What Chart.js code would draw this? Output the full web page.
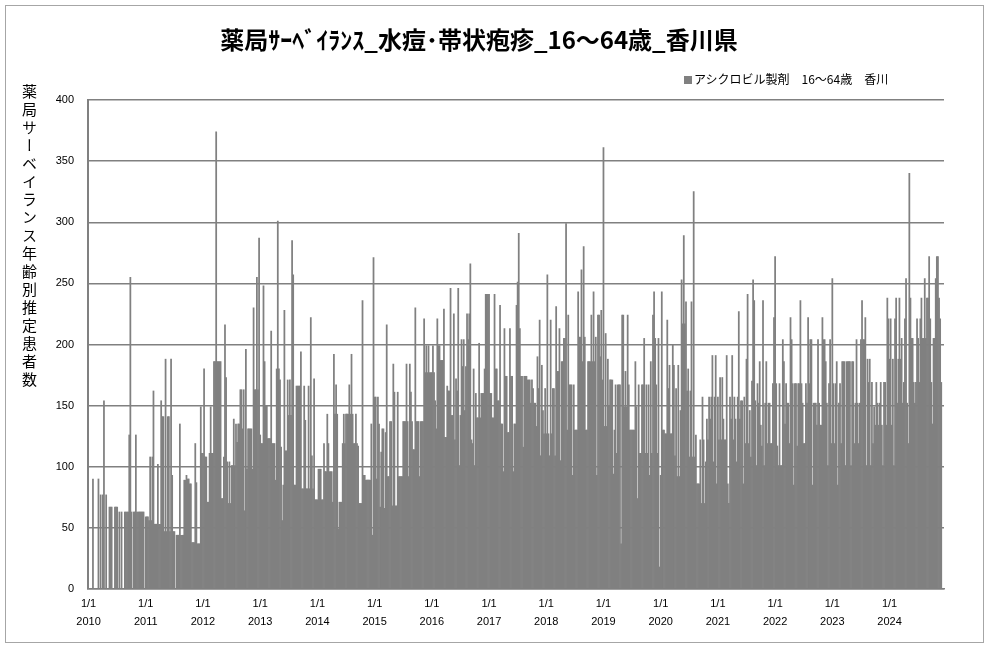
<!DOCTYPE html>
<html lang="ja">
<head>
<meta charset="utf-8">
<title>薬局サーベイランス 水痘・帯状疱疹 香川県</title>
<script src="https://cdn.jsdelivr.net/npm/chart.js@4.4.1/dist/chart.umd.min.js"></script>
<style>
  html, body { margin: 0; padding: 0; background: #fff; }
  #wrap { position: relative; width: 987px; height: 648px; }
  #frame { position: absolute; left: 5px; top: 5px; width: 977px; height: 636px; border: 1px solid #a6a6a6; pointer-events: none; }
  #ylabel { position: absolute; left: 19px; top: 84px; writing-mode: vertical-rl; text-orientation: upright;
            font: 15px "Noto Sans CJK JP"; letter-spacing: 3px; color: #000; }
  #legend { position: absolute; left: 684px; top: 70px; font: 12px "Noto Sans CJK JP"; color: #000; white-space: nowrap; }
  #legend .box { display: inline-block; width: 8px; height: 8px; background: #808080; margin-right: 2px; }
</style>
</head>
<body>
<div id="wrap">
  <canvas id="chart" width="987" height="648"></canvas>
  <div id="ylabel">薬局サーベイランス年齢別推定患者数</div>
  <div id="legend"></div>
  <div id="frame"></div>
</div>
<script>
// 週ごとの推定患者数
const years = [2010, 2011, 2012, 2013, 2014, 2015, 2016, 2017, 2018, 2019, 2020, 2021, 2022, 2023, 2024];
const weeksPerYear = [52, 52, 52, 52, 52, 52, 52, 52, 52, 52, 52, 52, 52, 52, 50];

const d2010 = [0,0,0,0,90,0,0,0,0,90,0,77,0,77,154,0,77,0,0,67,67,67,0,0,67,67,67,0,63,0,63,0,0,63,63,63,63,126,255,63,0,63,63,126,63,63,63,63,63,63,63,0];
const d2011 = [59,59,59,56,108,56,108,162,53,53,53,102,53,53,154,141,141,47,188,47,141,141,47,188,93,47,47,0,44,44,44,135,44,44,44,89,89,93,90,90,86,86,38,38,38,119,87,37,37,37,149,111];
const d2012 = [111,180,108,108,71,71,111,149,111,111,186,186,374,186,186,186,186,74,74,108,216,173,104,70,104,70,101,101,139,101,135,120,135,135,163,163,131,163,64,196,98,131,131,131,131,98,230,163,163,255,163,287];
const d2013 = [126,119,119,248,186,150,150,123,123,123,211,119,119,119,89,180,301,180,171,116,56,85,228,113,113,171,142,171,142,285,257,85,85,166,166,166,166,194,82,82,166,138,82,82,166,82,222,109,82,172,73,73];
const d2014 = [73,98,98,98,73,73,119,96,96,143,119,96,96,96,71,192,143,167,143,49,71,71,71,119,143,119,143,143,143,167,143,192,143,119,119,143,119,117,70,70,70,236,93,93,89,89,89,89,89,135,44,271];
const d2015 = [157,157,90,157,135,67,112,131,131,66,128,216,92,92,137,137,68,184,161,68,68,161,92,92,92,92,137,137,137,184,137,92,184,161,137,114,114,230,137,137,137,92,137,137,137,221,177,199,177,199,177,177];
const d2016 = [177,199,177,154,131,221,199,199,187,187,187,229,124,124,166,162,162,246,142,142,225,122,172,162,246,101,142,204,182,204,146,182,225,204,225,266,122,119,180,101,160,140,140,201,140,160,160,160,180,241,241,241];
const d2017 = [241,160,160,140,140,241,180,180,154,154,232,135,135,96,213,174,174,128,128,213,174,174,96,135,135,232,251,291,213,174,174,116,174,174,174,171,171,171,152,171,164,152,152,133,190,164,220,109,183,146,127,164];
const d2018 = [127,257,127,109,220,127,164,164,109,231,178,178,213,105,186,186,205,205,299,130,224,167,167,167,93,167,130,130,130,243,206,206,261,186,280,206,130,130,186,186,186,224,186,243,186,206,93,224,224,190,228,171];
const d2019 = [361,133,209,133,188,150,171,171,171,94,130,167,111,167,167,167,37,224,224,149,178,149,224,167,130,130,130,130,130,186,149,74,167,111,111,167,167,205,111,167,111,167,93,186,111,224,243,205,167,111,205,18];
const d2020 = [93,243,130,130,127,127,220,164,183,127,127,200,183,109,164,92,183,92,146,253,217,289,217,235,162,180,108,162,235,108,325,108,126,86,86,86,122,70,157,122,70,104,139,122,157,139,157,191,104,157,191,86];
const d2021 = [157,122,173,122,173,139,122,122,191,86,70,157,139,191,122,157,139,104,157,227,139,154,154,86,157,119,188,241,119,146,108,170,253,236,154,101,168,152,186,134,117,236,101,152,186,119,152,152,119,119,168,222];
const d2022 = [272,168,117,101,168,101,101,204,186,135,168,152,152,119,222,204,168,85,168,168,117,168,168,236,168,152,119,119,168,152,222,168,204,204,85,152,152,152,134,204,152,134,134,222,204,204,186,152,101,168,204,119];
const d2023 = [254,168,119,168,186,85,152,168,119,186,186,186,101,186,186,186,186,101,186,186,119,152,204,152,119,152,204,236,204,204,222,101,188,169,188,101,169,119,149,134,169,152,134,152,169,134,101,169,169,134,238,221];
const d2024 = [188,221,134,188,101,221,238,152,188,238,188,205,152,169,221,254,152,119,340,238,205,205,169,152,169,221,205,169,221,238,205,205,254,205,238,238,272,221,169,135,205,205,254,272,272,238,221,169];

const yTicks = [0, 50, 100, 150, 200, 250, 300, 350, 400];
const seriesLabel = 'アシクロビル製剤　16～64歳　香川';
const chartTitle = '薬局ｻｰﾍﾞｲﾗﾝｽ_水痘･帯状疱疹_16～64歳_香川県';

const values = [].concat(d2010, d2011, d2012, d2013, d2014, d2015, d2016, d2017, d2018, d2019, d2020, d2021, d2022, d2023, d2024);

// 各年の最初の週だけ「1/1 年」のラベル
const labels = [];
years.forEach((y, i) => {
  for (let w = 0; w < weeksPerYear[i]; w++) {
    labels.push(w === 0 ? ['1/1', String(y)] : '');
  }
});

document.querySelector('#legend').innerHTML = `<span class="box"></span>${seriesLabel}`;

const gray = '#808080';

const chart = new Chart(document.getElementById('chart'), {
  type: 'bar',
  data: {
    labels,
    datasets: [{
      label: seriesLabel,
      data: values,
      backgroundColor: gray,
      borderWidth: 0,
      barPercentage: 1,
      categoryPercentage: 1
    }]
  },
  options: {
    responsive: false,
    animation: false,
    layout: { padding: { left: 14, right: 43, top: 0, bottom: 0 } },
    plugins: {
      legend: { display: false },
      tooltip: { enabled: false },
      title: {
        display: true,
        text: chartTitle,
        color: '#000',
        font: { family: '"Noto Sans CJK JP"', size: 24, weight: 'bold', lineHeight: 1.2 },
        padding: { top: 25.6, bottom: 45.6 }
      }
    },
    scales: {
      x: {
        grid: { display: false, drawTicks: false },
        border: { display: true, color: gray, width: 1.5 },
        ticks: {
          autoSkip: false,
          maxRotation: 0,
          minRotation: 0,
          padding: 6,
          color: '#000',
          font: { family: '"Liberation Sans"', size: 11, lineHeight: 1.64 }
        },
        afterFit: (s) => { s.height = 59; }
      },
      y: {
        min: yTicks[0],
        max: yTicks[yTicks.length - 1],
        grid: { color: gray, lineWidth: 1.5, drawTicks: false },
        border: { display: true, color: gray, width: 2 },
        ticks: {
          stepSize: 50,
          padding: 14,
          color: '#000',
          font: { family: '"Liberation Sans"', size: 11 }
        },
        afterFit: (s) => { s.width = 74; }
      }
    }
  }
});
</script>
</body>
</html>
